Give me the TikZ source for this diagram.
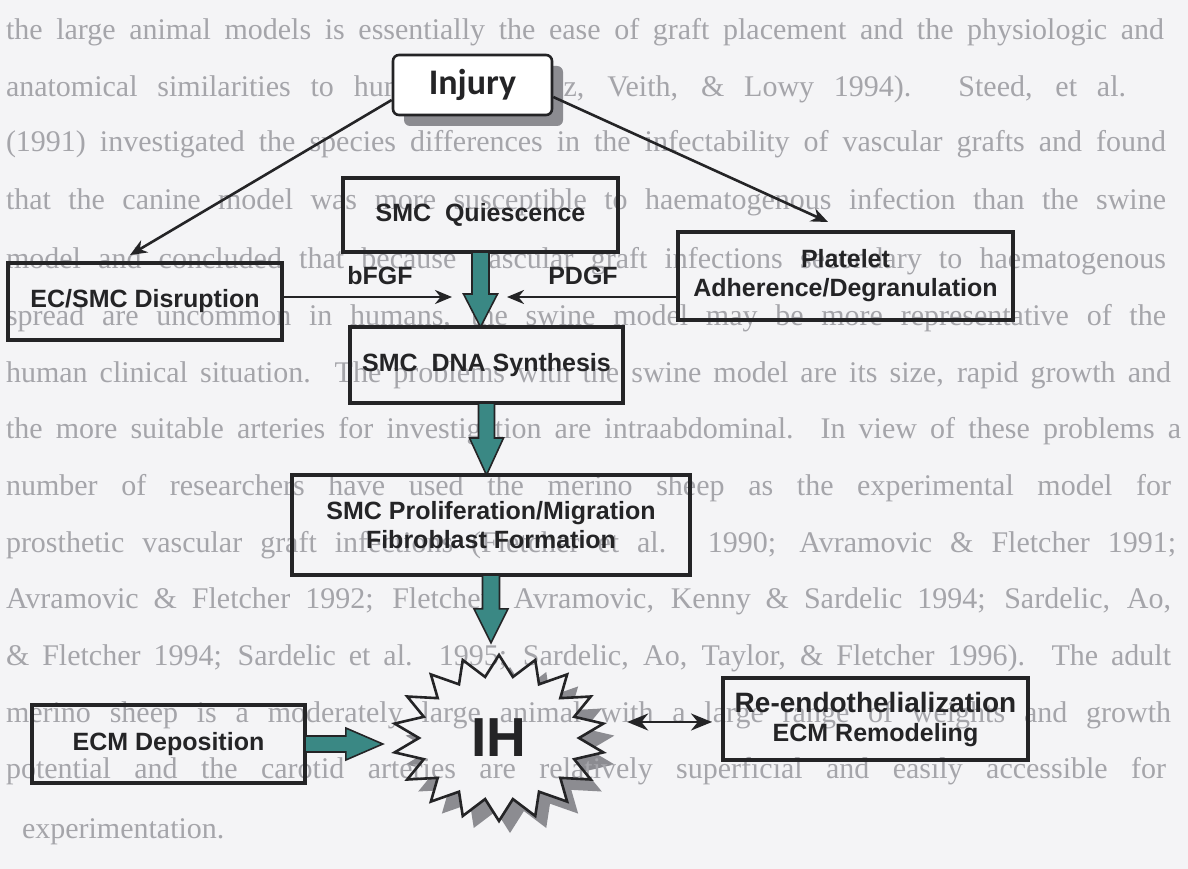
\documentclass[tikz,border=0pt]{standalone}
\usepackage{fontspec}
\setmainfont{Liberation Sans}
\newfontfamily\serifbg{Liberation Serif}
\newfontfamily\calib{Carlito}
\usetikzlibrary{arrows.meta,calc,shapes.geometric,shadows}
\definecolor{pagebg}{RGB}{244,244,246}
\definecolor{bgink}{RGB}{165,165,170}
\definecolor{ink}{RGB}{36,36,38}
\definecolor{tealfill}{RGB}{58,136,132}
\definecolor{shadowgray}{RGB}{140,140,145}
\newsavebox\bgbox
\newlength\bglen
\newcommand\bgfontsel{\serifbg\fontsize{30}{30}\selectfont}
\newcommand\bgfit[2]{%
  \sbox\bgbox{\bgfontsel #2}%
  \setlength\bglen{\wd\bgbox}%
  \pgfmathsetmacro\bgsx{min(1,#1/\bglen)}%
  \pgfmathsetmacro\bgwide{#1/\bgsx}%
  \scalebox{\bgsx}[1]{\makebox[\bgwide pt][s]{\bgfontsel #2}}}
\newcommand\bgline[4]{%
  \node[bgtext] at (#1,#2) {\bgfit{#3}{#4}};}
\newcommand\boxfont{\bfseries\fontsize{25}{29}\selectfont}
\newcommand\myvarrow[5]{%
  \path[blockarrow] let \p1=(#1), \p2=(#2) in
   (\x1-#3pt,\y1) -- (\x1+#3pt,\y1) -- (\x1+#3pt,\y2+#5pt) -- (\x1+#4pt,\y2+#5pt)
   -- (\x1,\y2) -- (\x1-#4pt,\y2+#5pt) -- (\x1-#3pt,\y2+#5pt) -- cycle;}
\newcommand\myharrow[5]{%
  \path[blockarrow] let \p1=(#1), \p2=(#2) in
   (\x1,\y1-#3pt) -- (\x2-#5pt,\y1-#3pt) -- (\x2-#5pt,\y1-#4pt) -- (\x2,\y1)
   -- (\x2-#5pt,\y1+#4pt) -- (\x2-#5pt,\y1+#3pt) -- (\x1,\y1+#3pt) -- cycle;}
\tikzset{
  bgtext/.style={anchor=base west, inner sep=0pt, outer sep=0pt, text=bgink},
  stepbox/.style={draw=ink, line width=3.5pt, text=ink, font=\boxfont, align=center, inner sep=0pt, outer sep=0pt},
  blockarrow/.style={draw=ink, line width=1.6pt, fill=tealfill, line join=miter},
  conn/.style={draw=ink, line width=2.6pt, -{Stealth[length=17pt,width=14pt]}},
  dblconn/.style={draw=ink, line width=2.8pt, {Stealth[length=21pt,width=17pt]}-{Stealth[length=21pt,width=17pt]}},
  lbl/.style={text=ink, font=\boxfont, inner sep=0pt},
  starpath/.style={line width=2.6pt, draw=ink, line join=miter}
}
\begin{document}
\begin{tikzpicture}[x=1pt,y=-1pt]
\useasboundingbox (0,0) rectangle (1188,869);
\fill[pagebg] (0,0) rectangle (1188,869);

% star shadow and star body (behind the page text)
\def\starpts{plot[samples at={0,...,35}, variable=\k] ({(mod(\k,2)==0 ? 106 : 80)*cos(-90+\k*10)}, {(mod(\k,2)==0 ? 83 : 62)*sin(-90+\k*10)}) -- cycle}
\fill[shadowgray, shift={(510,750)}] \starpts;
\fill[pagebg, shift={(499,738)}] \starpts;

% show-through text of the page
\bgline{6}{40}{1158}{the large animal models is essentially the ease of graft placement and the physiologic and}
\bgline{6}{97}{1120}{anatomical similarities to humans (Sanchez, Veith, \& Lowy 1994). Steed, et al.}
\bgline{6}{152}{1160}{(1991) investigated the species differences in the infectability of vascular grafts and found}
\bgline{6}{210}{1160}{that the canine model was more susceptible to haematogenous infection than the swine}
\bgline{6}{268}{1160}{model and concluded that because vascular graft infections secondary to haematogenous}
\bgline{6}{325}{1160}{spread are uncommon in humans, the swine model may be more representative of the}
\bgline{6}{382}{1165}{human clinical situation. The problems with the swine model are its size, rapid growth and}
\bgline{6}{438}{1175}{the more suitable arteries for investigation are intraabdominal. In view of these problems a}
\bgline{6}{495}{1165}{number of researchers have used the merino sheep as the experimental model for}
\bgline{6}{552}{1170}{prosthetic vascular graft infections (Fletcher et al. 1990; Avramovic \& Fletcher 1991;}
\bgline{6}{608}{1165}{Avramovic \& Fletcher 1992; Fletcher, Avramovic, Kenny \& Sardelic 1994; Sardelic, Ao,}
\bgline{6}{665}{1165}{\& Fletcher 1994; Sardelic et al. 1995; Sardelic, Ao, Taylor, \& Fletcher 1996). The adult}
\bgline{6}{722}{1165}{merino sheep is a moderately large animal with a large range of weights and growth}
\bgline{6}{778}{1160}{potential and the carotid arteries are relatively superficial and easily accessible for}
\node[bgtext] (bglast) at (22,838) {\bgfontsel experimentation.};

% boxes
\node[draw=ink, line width=2.6pt, fill=white, rounded corners=6pt, minimum width=159pt, minimum height=60pt,
      drop shadow={shadow xshift=11pt, shadow yshift=-11pt, fill=shadowgray, opacity=1},
      text=ink, font={\calib\bfseries\fontsize{36}{36}\selectfont}] (Injury) at (472.5,85) {Injury};
\node[stepbox, minimum width=274pt, minimum height=77pt] (ECSMC) at (145,301.5) {EC/SMC Disruption};
\node[stepbox, minimum width=275pt, minimum height=74pt] (Q) at (480.5,215) {SMC\ \ Quiescence};
\node[stepbox, minimum width=335pt, minimum height=88pt] (Plat) at (845.5,276) {Platelet\\Adherence/Degranulation};
\node[stepbox, minimum width=273pt, minimum height=76pt] (DNA) at (486.5,365) {SMC\ \ DNA Synthesis};
\node[stepbox, minimum width=398pt, minimum height=100pt] (Prolif) at (491,525) {SMC Proliferation/Migration\\Fibroblast Formation};
\node[stepbox, minimum width=273pt, minimum height=78pt] (ECM) at (168.5,744) {ECM Deposition};
\node[stepbox, minimum width=305pt, minimum height=82pt] (Reendo) at (875.5,719)
     {{\fontsize{28}{30}\selectfont Re-endothelialization}\\ECM Remodeling};
\node[ellipse, minimum width=232pt, minimum height=190pt, inner sep=0pt, text=ink,
      font={\bfseries\fontsize{55}{55}\selectfont}] (IH) at (499,738) {IH};

% star outline
\draw[starpath, shift={(499,738)}] \starpts;

% growth factor labels
\node[lbl] (bfgf) at (380,276) {bFGF};
\node[lbl] (pdgf) at (583,276) {PDGF};
\coordinate (bfgfend) at (452,297);
\coordinate (pdgfend) at (507,297);
\coordinate (ecin) at (130,255);
\coordinate (platin) at (828,222);

% connectors
\draw[conn] ([yshift=-15pt]Injury.west) -- (ecin);
\draw[conn] ([yshift=-12pt]Injury.east) -- (platin);
\draw[conn] (ECSMC.east |- bfgfend) -- (bfgfend);
\draw[conn] (Plat.west |- pdgfend) -- (pdgfend);
\draw[dblconn] ([shift={(12pt,16pt)}]IH.east) -- ([shift={(-11pt,-3pt)}]Reendo.west);

% block arrows
\myvarrow{Q.south}{DNA.north}{8.5}{17}{33}
\myvarrow{DNA.south}{Prolif.north}{8}{17}{37}
\myvarrow{Prolif.south}{IH.north}{8.5}{17}{34}
\myharrow{ECM.east}{IH.west}{8}{16}{37}
\end{tikzpicture}
\end{document}
